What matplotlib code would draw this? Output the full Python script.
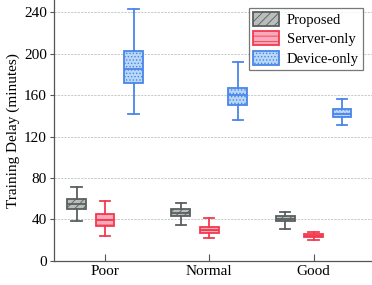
import matplotlib
matplotlib.use("Agg")
import matplotlib.pyplot as plt
from matplotlib.patches import Patch

plt.rcParams["font.family"] = ["Liberation Serif", "DejaVu Serif"]
plt.rcParams["hatch.linewidth"] = 0.6

groups = ["Poor", "Normal", "Good"]
methods = ["Proposed", "Server-only", "Device-only"]

# (whislo, q1, median, q3, whishi) per method, per group
proposed = [(38, 50, 55, 60, 71), (35, 43, 46, 50, 56), (31, 38, 40, 43, 47)]
server_only = [(24, 34, 39, 45, 58), (22, 27, 30, 33, 41), (20, 23, 24, 26, 28)]
device_only = [(142, 172, 185, 203, 243), (136, 151, 160, 167, 192), (131, 139, 142, 147, 156)]

edge_colors = ["#59605f", "#f23a4e", "#4a85ea"]
face_colors = ["#b9bdbc", "#f9a9ba", "#b8d8f6"]
hatches = ["////", "---", "....."]

fig, ax = plt.subplots(figsize=(3.72, 2.85), dpi=100)
fig.subplots_adjust(left=0.145, right=1.0, bottom=0.085, top=1.0)

offset, width = 0.273, 0.18
for k, data in enumerate([proposed, server_only, device_only]):
    stats = [{"whislo": s[0], "q1": s[1], "med": s[2], "q3": s[3], "whishi": s[4], "fliers": []}
             for s in data]
    pos = [g + 1 + (k - 1) * offset for g in range(len(groups))]
    ec = edge_colors[k]
    art = ax.bxp(stats, positions=pos, widths=width, patch_artist=True, showfliers=False,
                 boxprops=dict(facecolor=face_colors[k], edgecolor=ec, lw=1.3, hatch=hatches[k]),
                 medianprops=dict(color=ec, lw=1.3),
                 whiskerprops=dict(color=ec, lw=1.3),
                 capprops=dict(color=ec, lw=1.3), capwidths=width * 0.55)
    for b in art["boxes"]:
        b.set_edgecolor(ec)

ax.set_xlim(0.51, 3.56)
ax.set_ylim(0, 252)
ax.set_yticks(range(0, 241, 40))
ax.set_xticks([1, 2, 3])
ax.set_xticklabels(groups)
ax.tick_params(axis="x", direction="in", length=5, labelsize=11, pad=3, color="#555555")
ax.tick_params(axis="y", direction="out", length=3, labelsize=11, pad=2, color="#555555")
ax.set_ylabel("Training Delay (minutes)", fontsize=11, labelpad=3)
ax.yaxis.grid(True, ls=(0, (2.5, 1.5)), color="#b8c0c0", lw=0.6)
ax.set_axisbelow(True)
for side in ["top", "right"]:
    ax.spines[side].set_visible(False)
for side in ["left", "bottom"]:
    ax.spines[side].set_color("#555555")
    ax.spines[side].set_linewidth(0.9)

handles = [Patch(facecolor=face_colors[k], edgecolor=edge_colors[k], hatch=hatches[k], lw=1.3,
                 label=methods[k]) for k in range(3)]
leg = ax.legend(handles=handles, loc="upper right", bbox_to_anchor=(0.972, 0.971), fontsize=10.5,
                frameon=True, fancybox=False, handlelength=1.8, handleheight=1.1,
                handletextpad=0.5, borderpad=0.3, labelspacing=0.3, borderaxespad=0.0)
leg.get_frame().set_edgecolor("#555555")
leg.get_frame().set_linewidth(0.9)

fig.savefig("out.png", dpi=100)
